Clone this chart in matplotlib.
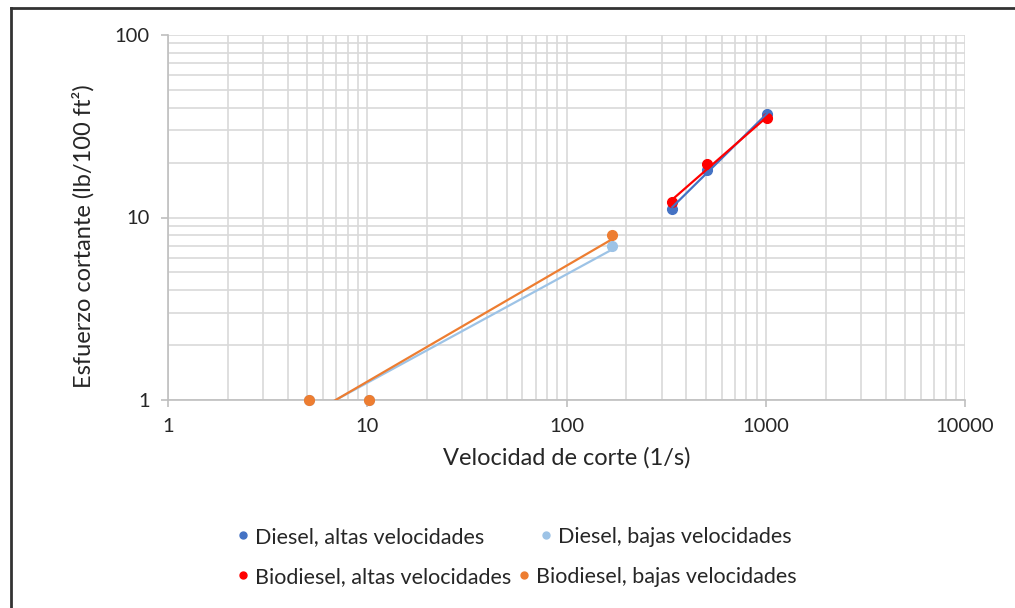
import numpy as np
import matplotlib
matplotlib.use("Agg")
import matplotlib.pyplot as plt
from matplotlib.lines import Line2D
from matplotlib.ticker import LogLocator, FixedLocator, NullFormatter

plt.rcParams['font.family'] = ['Lato', 'DejaVu Sans']

# shear rate (1/s) and shear stress (lb/100 ft2)
x_altas = [340, 510, 1020]
x_bajas = [5.1, 10.2, 170]
diesel_altas = [11.2, 18.2, 36.9]
biodiesel_altas = [12.1, 19.6, 35.0]
diesel_bajas = [1.0, 1.0, 7.0]
biodiesel_bajas = [1.0, 1.0, 8.0]

labels = ["Diesel, altas velocidades", "Diesel, bajas velocidades",
          "Biodiesel, altas velocidades", "Biodiesel, bajas velocidades"]
colors = ["#4472C4", "#9DC3E6", "#FF0000", "#ED7D31"]

fig = plt.figure(figsize=(10.15, 6.08), dpi=100)
ax = fig.add_axes([168 / 1015, 1 - 400 / 608, 797 / 1015, 365 / 608])


def power_trend(x, y):
    # Excel-style power trendline: straight fit in log-log space
    k, b = np.polyfit(np.log10(x), np.log10(y), 1)
    xs = np.logspace(np.log10(min(x)), np.log10(max(x)), 50)
    return xs, 10 ** (b + k * np.log10(xs))


series = [(x_altas, diesel_altas), (x_bajas, diesel_bajas),
          (x_altas, biodiesel_altas), (x_bajas, biodiesel_bajas)]
draw_order = [1, 3, 0, 2]
for i in draw_order:
    x, y = series[i]
    ax.plot(x, y, 'o', color=colors[i], ms=7, zorder=3, clip_on=False)
for i in draw_order:
    x, y = series[i]
    xs, ys = power_trend(x, y)
    ax.plot(xs, ys, '-', color=colors[i], lw=1.6, zorder=4)

ax.set_xscale('log')
ax.set_yscale('log')
ax.set_xlim(1, 10000)
ax.set_ylim(1, 100)
ax.xaxis.set_major_locator(FixedLocator([1, 10, 100, 1000, 10000]))
ax.yaxis.set_major_locator(FixedLocator([1, 10, 100]))
ax.set_xticklabels(["1", "10", "100", "1000", "10000"])
ax.set_yticklabels(["1", "10", "100"])
ax.xaxis.set_minor_locator(LogLocator(base=10, subs=np.arange(2, 10)))
ax.yaxis.set_minor_locator(LogLocator(base=10, subs=np.arange(2, 10)))
ax.xaxis.set_minor_formatter(NullFormatter())
ax.yaxis.set_minor_formatter(NullFormatter())
ax.grid(True, which='both', color='#d9d9d9', lw=1.2)
ax.set_axisbelow(True)
for s in ['top', 'right']:
    ax.spines[s].set_visible(False)
for s in ['left', 'bottom']:
    ax.spines[s].set_color('#bfbfbf')
    ax.spines[s].set_linewidth(1.2)
ax.tick_params(which='major', length=5, color='#bfbfbf', width=1.2,
               labelsize=14.5, labelcolor='#262626', pad=8)
ax.tick_params(which='minor', length=0)

ax.set_xlabel("Velocidad de corte (1/s)", fontsize=17, color='#262626', labelpad=9)
ax.set_ylabel("Esfuerzo cortante (lb/100 ft²)", fontsize=17, color='#262626')
ax.yaxis.set_label_coords(-0.092, 0.45)

# legend: two rows, laid out like the spreadsheet legend
def handle(c):
    return Line2D([], [], ls='none', marker='o', color=c, ms=5)

row1 = fig.legend([handle(colors[0]), handle(colors[1])], labels[0:2], ncol=2,
                  loc='center left', bbox_to_anchor=(238 / 1015, 1 - 537 / 608),
                  frameon=False, fontsize=15.5, handlelength=0.5, handletextpad=0.3,
                  columnspacing=2.6, borderpad=0, borderaxespad=0)
row2 = fig.legend([handle(colors[2]), handle(colors[3])], labels[2:4], ncol=2,
                  loc='center left', bbox_to_anchor=(238 / 1015, 1 - 577 / 608),
                  frameon=False, fontsize=15.5, handlelength=0.5, handletextpad=0.3,
                  columnspacing=0.35, borderpad=0, borderaxespad=0)
for lg in (row1, row2):
    for t in lg.get_texts():
        t.set_color('#262626')

# chart border (left and top edges visible)
fig.add_artist(Line2D([11 / 1015, 11 / 1015], [0, 1 - 8 / 608], color='#333333', lw=2))
fig.add_artist(Line2D([11 / 1015, 1], [1 - 8 / 608, 1 - 8 / 608], color='#333333', lw=2))

fig.savefig("out.png", dpi=100)
